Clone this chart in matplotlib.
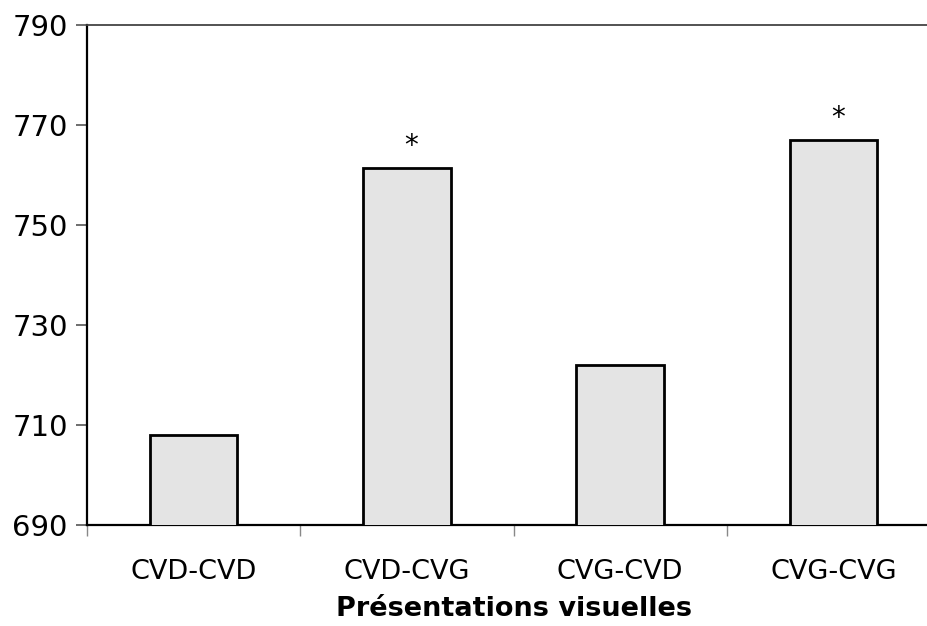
import matplotlib
matplotlib.use("Agg")
import matplotlib.pyplot as plt
import numpy as np

categories = ["CVD-CVD", "CVD-CVG", "CVG-CVD", "CVG-CVG"]
values = [708, 761.5, 722, 767]
stars = ["", "*", "", "*"]
yticks = [690, 710, 730, 750, 770, 790]

plt.rcParams['font.family'] = ['DejaVu Sans']

fig = plt.figure(figsize=(9.27, 6.26), dpi=100)
ax = fig.add_axes([0.094, 0.161, 0.920, 0.799])

x = np.arange(len(categories))
bars = ax.bar(x, values, width=0.41, bottom=0, color="#e4e4e4",
              edgecolor="black", linewidth=2, zorder=3)

for xi, v, s in zip(x, values, stars):
    if s:
        ax.text(xi + 0.02, v + 1.6, s, ha="center", va="bottom", fontsize=20)

ax.set_xlim(-0.5, 3.5)
ax.set_ylim(690, 790)
ax.set_yticks(yticks)
ax.set_xticks(x)
ax.set_xticklabels(categories, fontsize=19.5)
ax.set_xticks(np.arange(len(categories) + 1) - 0.5, minor=True)
ax.tick_params(axis="x", which="major", length=0, pad=24)
ax.tick_params(axis="x", which="minor", length=8, width=1, color="#888888")
ax.tick_params(axis="y", labelsize=21, length=8, width=1.2, color="#555555", pad=6)

for side in ["left", "bottom"]:
    ax.spines[side].set_linewidth(1.6)
ax.spines["top"].set_linewidth(1.3)
ax.spines["top"].set_color("#444444")
ax.spines["right"].set_visible(False)

ax.set_xlabel("Présentations visuelles", fontsize=19.5, fontweight="bold", labelpad=8)

fig.savefig("out.png", dpi=100)
